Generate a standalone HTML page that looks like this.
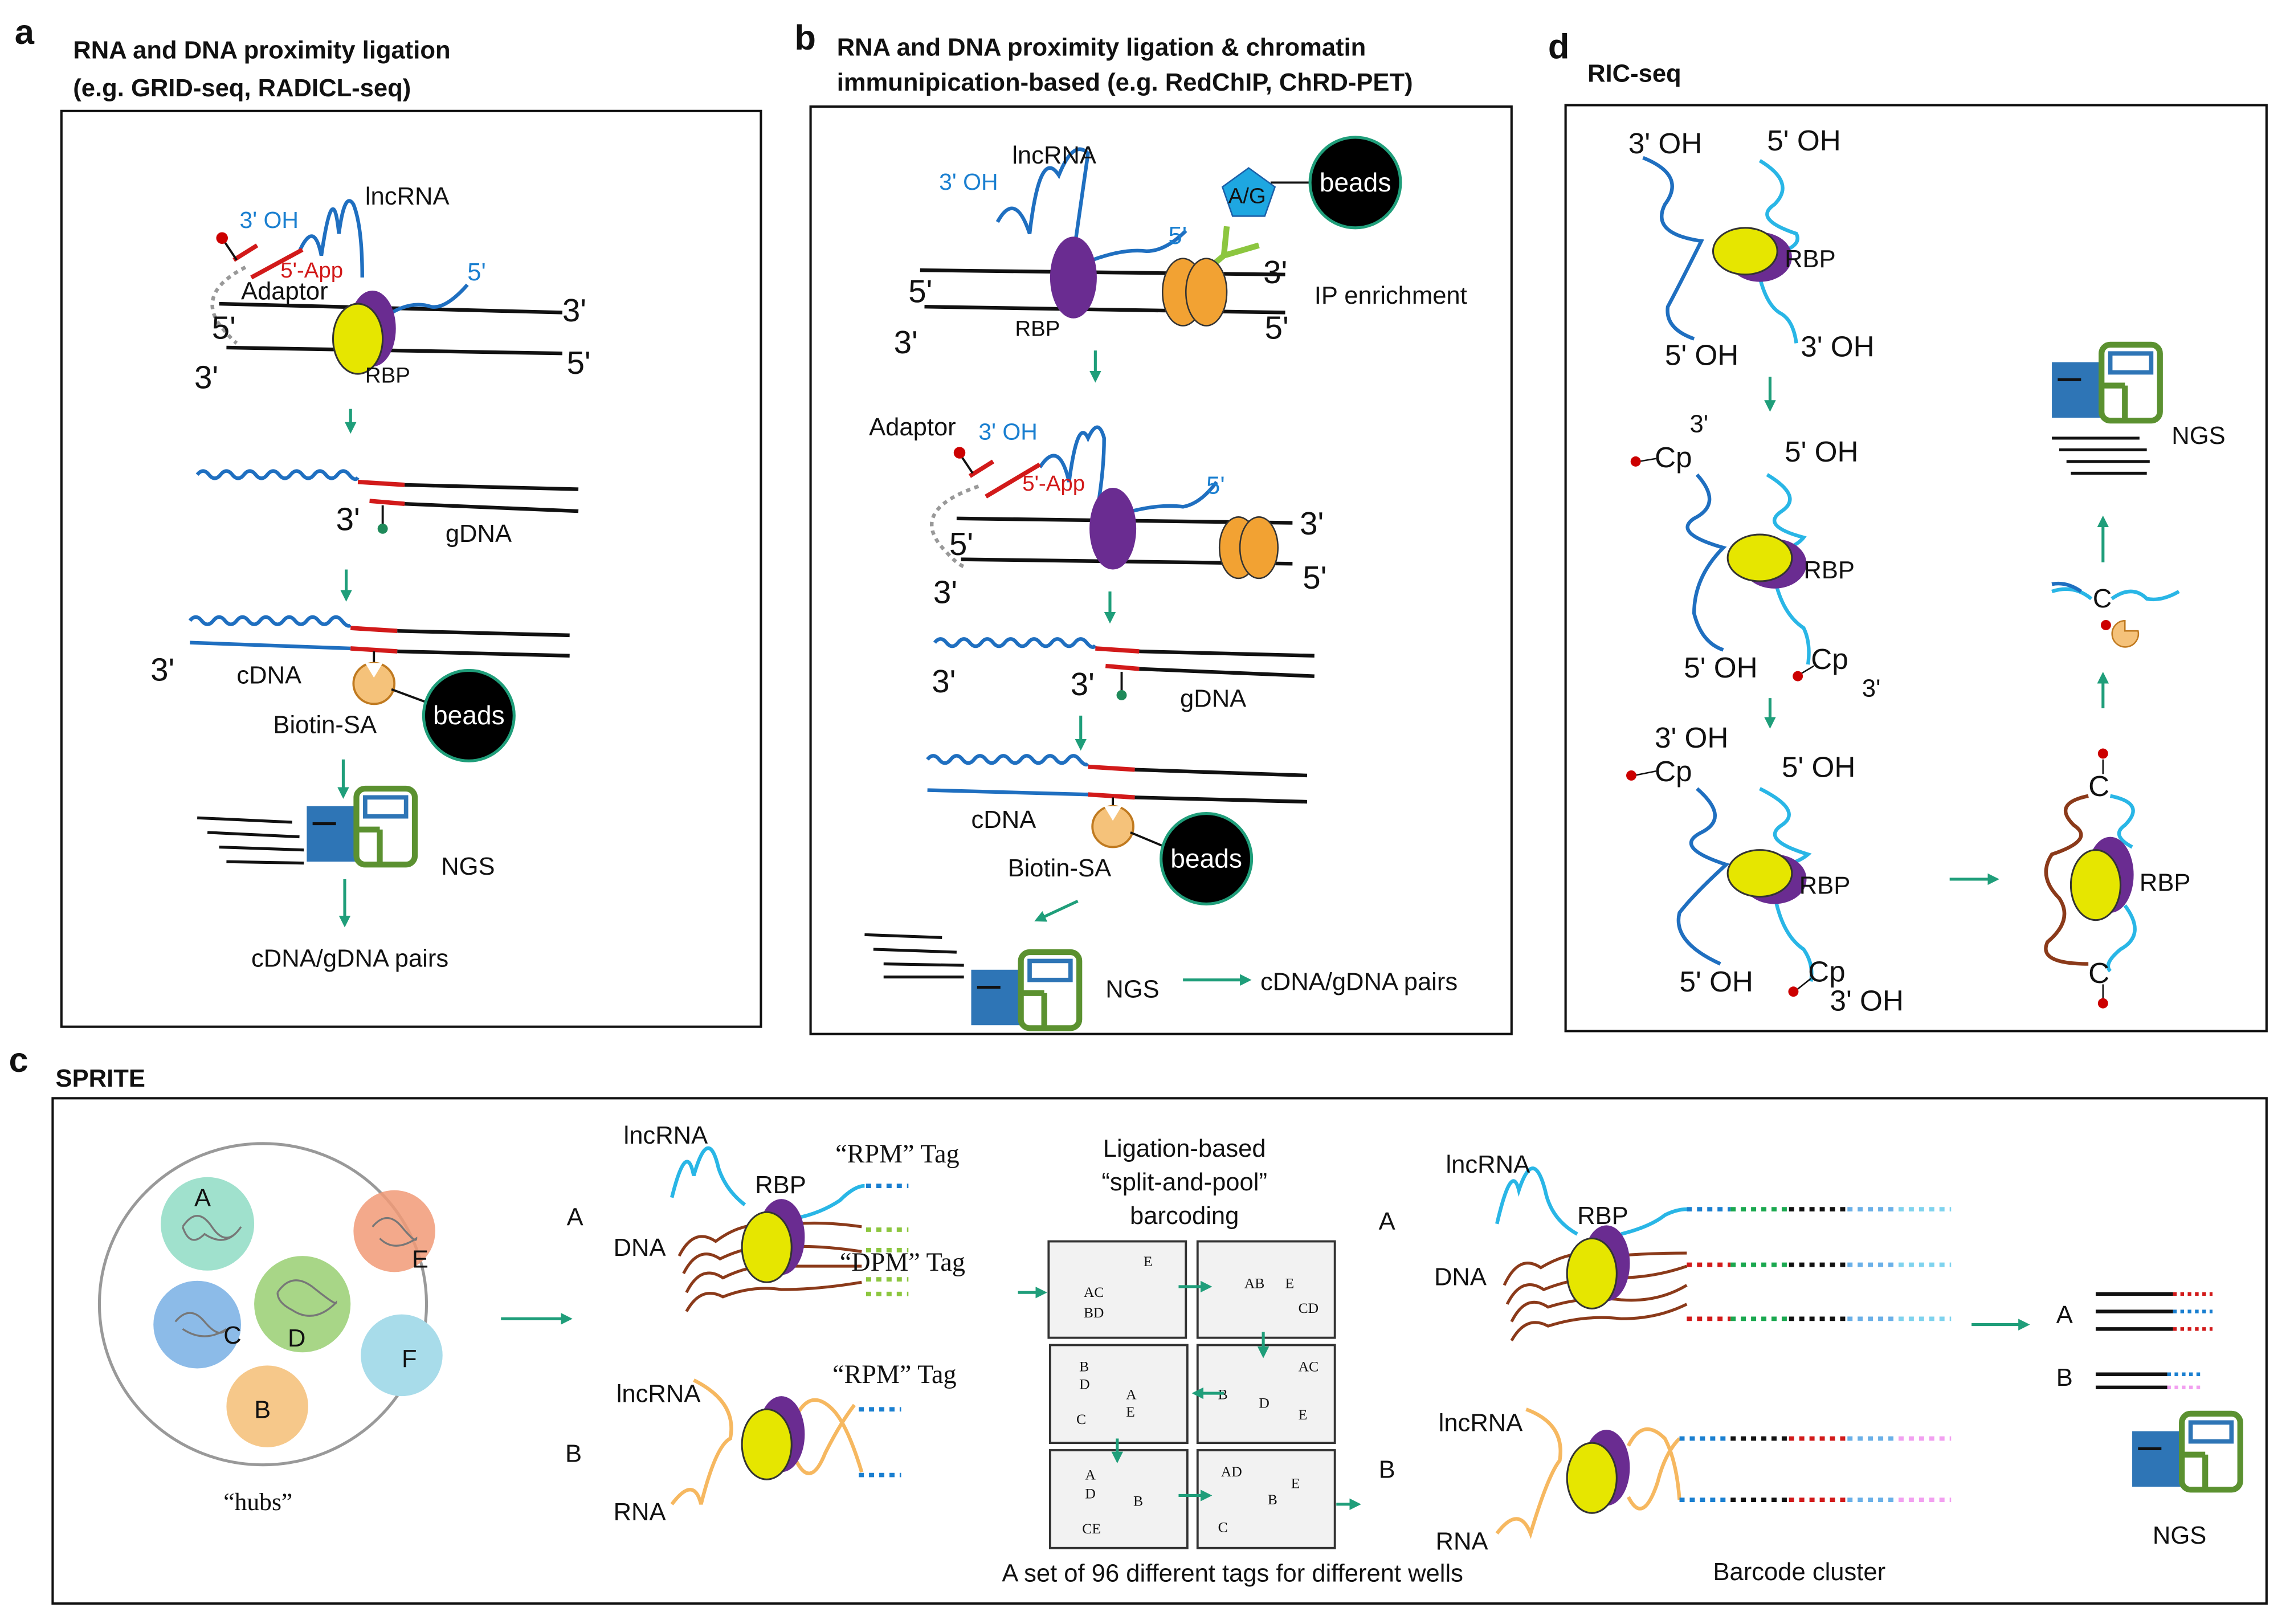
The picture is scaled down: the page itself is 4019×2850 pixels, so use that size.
<!DOCTYPE html>
<html><head><meta charset="utf-8">
<style>
html,body{margin:0;padding:0;background:#fff}
svg{display:block}
text{font-family:"Liberation Sans",Arial,sans-serif;font-size:17px;fill:#111}
.b{font-weight:bold}
.bl{fill:#1a7fd0}
.rd{fill:#d21a1a}
.ser{font-family:"Liberation Serif",serif}
</style></head><body>
<svg width="4019" height="2850" viewBox="0 0 1568 1112" xmlns="http://www.w3.org/2000/svg">
<defs>
<marker id="ar" markerWidth="8" markerHeight="8" refX="6" refY="4" orient="auto" markerUnits="userSpaceOnUse"><path d="M0,0 L8,4 L0,8 z" fill="#1f9e7a"/></marker>
<g id="ngs">
 <rect x="0" y="14" width="42" height="38" fill="#2e75b6"/>
 <line x1="4" y1="26" x2="20" y2="26" stroke="#111" stroke-width="2"/>
 <rect x="34" y="2" width="40" height="52" rx="6" fill="#fff" stroke="#5b9130" stroke-width="4"/>
 <rect x="40" y="8" width="28" height="13" fill="#fff" stroke="#2e75b6" stroke-width="3"/>
 <line x1="34" y1="30" x2="50" y2="30" stroke="#5b9130" stroke-width="4"/>
 <line x1="50" y1="30" x2="50" y2="54" stroke="#5b9130" stroke-width="4"/>
</g>
<g id="beads"><circle r="31" fill="#000" stroke="#1f9e7a" stroke-width="2"/><text x="0" y="6" text-anchor="middle" style="fill:#fff;font-size:18px">beads</text></g>
<g id="bio"><circle r="14" fill="#f5c27a" stroke="#c07a20" stroke-width="1.5"/><path d="M-6,-14 L0,-4 L6,-14z" fill="#fff"/></g>
<g id="pin"><line x1="0" y1="0" x2="0" y2="14" stroke="#111" stroke-width="1.5"/><circle cx="0" cy="16" r="3.5" fill="#1f8a5a"/></g>
<g id="rbp"><ellipse cx="10" cy="4" rx="22" ry="17" fill="#6a2c91"/><ellipse cx="0" cy="0" rx="22" ry="16" fill="#e6e600" stroke="#333" stroke-width="1.2"/></g>
<g id="rbp2"><ellipse cx="10" cy="-3" rx="16" ry="26" fill="#6a2c91"/><ellipse cx="0" cy="4" rx="17" ry="24" fill="#e6e600" stroke="#333" stroke-width="1.2"/></g>
</defs>

<g fill="none" stroke="#111" stroke-width="1.6">
<rect x="42" y="76" width="479" height="627"/>
<rect x="555" y="73" width="480" height="635"/>
<rect x="1072" y="72" width="480" height="634"/>
<rect x="36" y="752" width="1516" height="346"/>
</g>

<!-- titles -->
<text x="10" y="30" class="b" style="font-size:24px">a</text>
<text x="50" y="40" class="b">RNA and DNA proximity ligation</text>
<text x="50" y="66" class="b">(e.g. GRID-seq, RADICL-seq)</text>
<text x="544" y="34" class="b" style="font-size:24px">b</text>
<text x="573" y="38" class="b">RNA and DNA proximity ligation &amp; chromatin</text>
<text x="573" y="62" class="b">immunipication-based (e.g. RedChIP, ChRD-PET)</text>
<text x="1060" y="40" class="b" style="font-size:24px">d</text>
<text x="1087" y="56" class="b">RIC-seq</text>
<text x="6" y="734" class="b" style="font-size:24px">c</text>
<text x="38" y="744" class="b">SPRITE</text>

<!-- ============ Panel a ============ -->
<g fill="none" stroke-width="2.5">
<line x1="150" y1="208" x2="385" y2="214" stroke="#111"/>
<line x1="155" y1="238" x2="385" y2="242" stroke="#111"/>
<path d="M205,172 Q215,150 220,175 Q228,120 232,160 Q236,130 242,140 Q248,155 248,190" stroke="#1f6fc0"/>
<path d="M262,218 Q280,205 295,210 Q305,212 320,195" stroke="#1f6fc0"/>
<line x1="172" y1="190" x2="207" y2="171" stroke="#d21a1a" stroke-width="3"/>
<line x1="160" y1="178" x2="176" y2="168" stroke="#d21a1a" stroke-width="3"/>
<path d="M168,183 Q135,200 150,222 Q158,232 162,235" stroke="#999" stroke-dasharray="3 3"/>
</g>
<line x1="154" y1="166" x2="162" y2="178" stroke="#111" stroke-width="1.5"/>
<circle cx="152" cy="163" r="4" fill="#c00"/>
<use href="#rbp2" x="245" y="228"/>
<text x="164" y="156" class="bl" style="font-size:16px">3' OH</text>
<text x="250" y="140">lncRNA</text>
<text x="192" y="190" class="rd" style="font-size:15px">5'-App</text>
<text x="165" y="205">Adaptor</text>
<text x="320" y="192" class="bl">5'</text>
<text x="145" y="232" style="font-size:22px">5'</text>
<text x="385" y="220" style="font-size:22px">3'</text>
<text x="133" y="266" style="font-size:22px">3'</text>
<text x="388" y="256" style="font-size:22px">5'</text>
<text x="250" y="262" style="font-size:15px">RBP</text>
<line x1="240" y1="280" x2="240" y2="295" stroke="#1f9e7a" stroke-width="2" marker-end="url(#ar)"/>

<g fill="none" stroke-width="2.5">
<path d="M135,325 q4,-5 8,0 t8,0 t8,0 t8,0 t8,0 t8,0 t8,0 t8,0 t8,0 t8,0 t8,0 t8,0 t8,0 t6,2" stroke="#1f6fc0"/>
<line x1="245" y1="330" x2="277" y2="332" stroke="#d21a1a" stroke-width="3"/>
<line x1="277" y1="332" x2="396" y2="335" stroke="#111"/>
<line x1="277" y1="345" x2="396" y2="350" stroke="#111"/>
<line x1="253" y1="343" x2="277" y2="345" stroke="#d21a1a" stroke-width="3"/>
</g>
<use href="#pin" x="262" y="346"/>
<text x="230" y="363" style="font-size:22px">3'</text>
<text x="305" y="371">gDNA</text>
<line x1="237" y1="390" x2="237" y2="410" stroke="#1f9e7a" stroke-width="2" marker-end="url(#ar)"/>

<g fill="none" stroke-width="2.5">
<path d="M130,425 q4,-5 8,0 t8,0 t8,0 t8,0 t8,0 t8,0 t8,0 t8,0 t8,0 t8,0 t8,0 t8,0 t8,0 t6,3" stroke="#1f6fc0"/>
<line x1="240" y1="430" x2="272" y2="432" stroke="#d21a1a" stroke-width="3"/>
<line x1="272" y1="432" x2="390" y2="435" stroke="#111"/>
<line x1="130" y1="440" x2="240" y2="444" stroke="#1f6fc0"/>
<line x1="240" y1="444" x2="272" y2="446" stroke="#d21a1a" stroke-width="3"/>
<line x1="272" y1="446" x2="390" y2="449" stroke="#111"/>
</g>
<line x1="256" y1="446" x2="256" y2="460" stroke="#111" stroke-width="1.5"/>
<use href="#bio" x="256" y="468"/>
<line x1="268" y1="472" x2="295" y2="482" stroke="#111" stroke-width="1.5"/>
<use href="#beads" x="321" y="490"/>
<text x="103" y="466" style="font-size:22px">3'</text>
<text x="162" y="468">cDNA</text>
<text x="187" y="502">Biotin-SA</text>
<line x1="235" y1="520" x2="235" y2="545" stroke="#1f9e7a" stroke-width="2" marker-end="url(#ar)"/>
<g stroke="#111" stroke-width="2"><line x1="135" y1="560" x2="200" y2="563"/><line x1="142" y1="570" x2="205" y2="573"/><line x1="150" y1="580" x2="208" y2="582"/><line x1="155" y1="590" x2="208" y2="591"/></g>
<use href="#ngs" x="210" y="538"/>
<text x="302" y="599">NGS</text>
<line x1="236" y1="602" x2="236" y2="633" stroke="#1f9e7a" stroke-width="2" marker-end="url(#ar)"/>
<text x="172" y="662">cDNA/gDNA pairs</text>

<!-- ============ Panel b ============ -->
<g fill="none" stroke-width="2.5">
<line x1="630" y1="185" x2="880" y2="188" stroke="#111"/>
<line x1="633" y1="210" x2="880" y2="214" stroke="#111"/>
<path d="M683,152 Q695,130 705,160 Q712,100 725,120 Q735,95 745,105 Q740,140 735,175" stroke="#1f6fc0"/>
<path d="M748,178 Q770,170 785,172 Q798,172 812,158" stroke="#1f6fc0"/>
<path d="M820,190 L838,175 L840,155 M838,175 L862,168" stroke="#8cc63f" stroke-width="4"/>
<line x1="870" y1="125" x2="900" y2="125" stroke="#111" stroke-width="1.5"/>
</g>
<ellipse cx="735" cy="190" rx="16" ry="28" fill="#6a2c91"/>
<ellipse cx="810" cy="200" rx="14" ry="23" fill="#f2a233" stroke="#333"/>
<ellipse cx="826" cy="200" rx="14" ry="23" fill="#f2a233" stroke="#333"/>
<polygon points="855,115 873,128 866,148 844,148 837,128" fill="#1ea7e1" stroke="#1b5fa8"/>
<text x="841" y="139" style="font-size:15px">A/G</text>
<use href="#beads" x="928" y="125"/>
<text x="693" y="112">lncRNA</text>
<text x="643" y="130" class="bl" style="font-size:16px">3' OH</text>
<text x="800" y="167" class="bl">5'</text>
<text x="622" y="207" style="font-size:22px">5'</text>
<text x="612" y="242" style="font-size:22px">3'</text>
<text x="865" y="194" style="font-size:22px">3'</text>
<text x="866" y="232" style="font-size:22px">5'</text>
<text x="695" y="230" style="font-size:15px">RBP</text>
<text x="900" y="208">IP enrichment</text>
<line x1="750" y1="240" x2="750" y2="260" stroke="#1f9e7a" stroke-width="2" marker-end="url(#ar)"/>

<g fill="none" stroke-width="2.5">
<line x1="655" y1="355" x2="885" y2="358" stroke="#111"/>
<line x1="658" y1="383" x2="885" y2="386" stroke="#111"/>
<path d="M712,320 Q725,300 732,330 Q738,285 745,300 Q752,285 756,300 Q756,320 752,345" stroke="#1f6fc0"/>
<path d="M775,350 Q795,345 810,347 Q822,345 833,330" stroke="#1f6fc0"/>
<line x1="675" y1="340" x2="712" y2="318" stroke="#d21a1a" stroke-width="3"/>
<line x1="664" y1="326" x2="680" y2="316" stroke="#d21a1a" stroke-width="3"/>
<path d="M670,333 Q620,350 648,378 Q655,386 660,388" stroke="#999" stroke-dasharray="3 3"/>
</g>
<line x1="658" y1="312" x2="666" y2="324" stroke="#111" stroke-width="1.5"/>
<circle cx="657" cy="310" r="4" fill="#c00"/>
<ellipse cx="762" cy="362" rx="16" ry="28" fill="#6a2c91"/>
<ellipse cx="848" cy="375" rx="13" ry="21" fill="#f2a233" stroke="#333"/>
<ellipse cx="862" cy="375" rx="13" ry="21" fill="#f2a233" stroke="#333"/>
<text x="595" y="298">Adaptor</text>
<text x="670" y="301" class="bl" style="font-size:16px">3' OH</text>
<text x="700" y="336" class="rd" style="font-size:15px">5'-App</text>
<text x="826" y="338" class="bl">5'</text>
<text x="890" y="366" style="font-size:22px">3'</text>
<text x="892" y="403" style="font-size:22px">5'</text>
<text x="650" y="380" style="font-size:22px">5'</text>
<text x="639" y="413" style="font-size:22px">3'</text>
<line x1="760" y1="405" x2="760" y2="425" stroke="#1f9e7a" stroke-width="2" marker-end="url(#ar)"/>

<g fill="none" stroke-width="2.5">
<path d="M640,440 q4,-5 8,0 t8,0 t8,0 t8,0 t8,0 t8,0 t8,0 t8,0 t8,0 t8,0 t8,0 t8,0 t8,0 t6,2" stroke="#1f6fc0"/>
<line x1="750" y1="444" x2="780" y2="446" stroke="#d21a1a" stroke-width="3"/>
<line x1="780" y1="446" x2="900" y2="449" stroke="#111"/>
<line x1="780" y1="458" x2="900" y2="463" stroke="#111"/>
<line x1="757" y1="456" x2="780" y2="458" stroke="#d21a1a" stroke-width="3"/>
</g>
<use href="#pin" x="768" y="460"/>
<text x="638" y="474" style="font-size:22px">3'</text>
<text x="733" y="476" style="font-size:22px">3'</text>
<text x="808" y="484">gDNA</text>
<line x1="740" y1="490" x2="740" y2="512" stroke="#1f9e7a" stroke-width="2" marker-end="url(#ar)"/>

<g fill="none" stroke-width="2.5">
<path d="M635,520 q4,-5 8,0 t8,0 t8,0 t8,0 t8,0 t8,0 t8,0 t8,0 t8,0 t8,0 t8,0 t8,0 t8,0 t6,3" stroke="#1f6fc0"/>
<line x1="745" y1="525" x2="777" y2="527" stroke="#d21a1a" stroke-width="3"/>
<line x1="777" y1="527" x2="895" y2="531" stroke="#111"/>
<line x1="635" y1="541" x2="745" y2="544" stroke="#1f6fc0"/>
<line x1="745" y1="544" x2="777" y2="546" stroke="#d21a1a" stroke-width="3"/>
<line x1="777" y1="546" x2="895" y2="549" stroke="#111"/>
</g>
<line x1="762" y1="546" x2="762" y2="558" stroke="#111" stroke-width="1.5"/>
<use href="#bio" x="762" y="566"/>
<line x1="774" y1="570" x2="798" y2="580" stroke="#111" stroke-width="1.5"/>
<use href="#beads" x="826" y="588"/>
<text x="665" y="567">cDNA</text>
<text x="690" y="600">Biotin-SA</text>
<line x1="738" y1="617" x2="710" y2="630" stroke="#1f9e7a" stroke-width="2" marker-end="url(#ar)"/>
<g stroke="#111" stroke-width="2"><line x1="592" y1="640" x2="645" y2="642"/><line x1="598" y1="650" x2="655" y2="652"/><line x1="605" y1="660" x2="660" y2="661"/><line x1="605" y1="669" x2="660" y2="669"/></g>
<use href="#ngs" x="665" y="650"/>
<text x="757" y="683">NGS</text>
<line x1="810" y1="671" x2="855" y2="671" stroke="#1f9e7a" stroke-width="2" marker-end="url(#ar)"/>
<text x="863" y="678">cDNA/gDNA pairs</text>

<!-- ============ Panel d ============ -->
<g fill="none" stroke-width="2.5">
<path d="M1125,108 Q1155,120 1140,140 Q1130,160 1165,165 Q1150,195 1142,210 Q1140,225 1160,232" stroke="#1f6fc0"/>
<path d="M1205,110 Q1230,125 1215,140 Q1200,150 1230,160 Q1235,170 1210,175" stroke="#29b6e6"/>
<path d="M1205,190 Q1210,210 1220,215 Q1228,220 1230,235" stroke="#29b6e6"/>
</g>
<use href="#rbp" x="1195" y="172"/>
<text x="1115" y="105" style="font-size:20px">3' OH</text>
<text x="1210" y="103" style="font-size:20px">5' OH</text>
<text x="1222" y="183">RBP</text>
<text x="1140" y="250" style="font-size:20px">5' OH</text>
<text x="1233" y="244" style="font-size:20px">3' OH</text>
<line x1="1212" y1="258" x2="1212" y2="280" stroke="#1f9e7a" stroke-width="2" marker-end="url(#ar)"/>

<g fill="none" stroke-width="2.5">
<path d="M1162,325 Q1180,345 1160,355 Q1145,365 1180,375 Q1160,395 1160,420 Q1165,440 1180,445" stroke="#1f6fc0"/>
<path d="M1210,325 Q1235,340 1220,350 Q1205,360 1235,368 Q1230,375 1210,380" stroke="#29b6e6"/>
<path d="M1215,395 Q1220,420 1235,430 Q1240,440 1238,455" stroke="#29b6e6"/>
</g>
<use href="#rbp" x="1205" y="382"/>
<line x1="1122" y1="316" x2="1134" y2="314" stroke="#111"/><circle cx="1120" cy="316" r="3.5" fill="#c00"/>
<line x1="1232" y1="462" x2="1242" y2="456" stroke="#111"/><circle cx="1231" cy="463" r="3.5" fill="#c00"/>
<text x="1157" y="296" style="font-size:17px">3'</text>
<text x="1133" y="320" style="font-size:20px">Cp</text>
<text x="1222" y="316" style="font-size:20px">5' OH</text>
<text x="1235" y="396">RBP</text>
<text x="1153" y="464" style="font-size:20px">5' OH</text>
<text x="1240" y="458" style="font-size:20px">Cp</text>
<text x="1275" y="477" style="font-size:17px">3'</text>
<line x1="1212" y1="478" x2="1212" y2="497" stroke="#1f9e7a" stroke-width="2" marker-end="url(#ar)"/>

<g fill="none" stroke-width="2.5">
<path d="M1162,540 Q1185,560 1165,570 Q1145,580 1182,592 Q1160,612 1150,625 Q1145,645 1178,660" stroke="#1f6fc0"/>
<path d="M1205,540 Q1235,555 1220,565 Q1205,575 1238,585 Q1230,592 1210,595" stroke="#29b6e6"/>
<path d="M1215,612 Q1220,640 1235,650 Q1242,660 1240,672" stroke="#29b6e6"/>
</g>
<use href="#rbp" x="1205" y="598"/>
<line x1="1119" y1="531" x2="1134" y2="528" stroke="#111"/><circle cx="1117" cy="531" r="3.5" fill="#c00"/>
<line x1="1230" y1="678" x2="1240" y2="670" stroke="#111"/><circle cx="1228" cy="679" r="3.5" fill="#c00"/>
<text x="1133" y="512" style="font-size:20px">3' OH</text>
<text x="1133" y="535" style="font-size:20px">Cp</text>
<text x="1220" y="532" style="font-size:20px">5' OH</text>
<text x="1232" y="612">RBP</text>
<text x="1150" y="679" style="font-size:20px">5' OH</text>
<text x="1238" y="672" style="font-size:20px">Cp</text>
<text x="1253" y="692" style="font-size:20px">3' OH</text>
<line x1="1335" y1="602" x2="1367" y2="602" stroke="#1f9e7a" stroke-width="2" marker-end="url(#ar)"/>

<g fill="none" stroke-width="2.5">
<path d="M1430,545 Q1405,550 1420,565 Q1435,575 1405,585 Q1395,600 1410,615 Q1420,630 1402,645 Q1395,660 1430,660" stroke="#8b3a1a"/>
<path d="M1445,545 Q1470,550 1455,565 Q1445,572 1460,580 M1455,620 Q1470,640 1452,650 Q1440,660 1445,665" stroke="#29b6e6"/>
</g>
<use href="#rbp2" x="1435" y="602"/>
<line x1="1440" y1="520" x2="1440" y2="530" stroke="#111"/><circle cx="1440" cy="516" r="3.5" fill="#c00"/>
<line x1="1440" y1="674" x2="1440" y2="684" stroke="#111"/><circle cx="1440" cy="687" r="3.5" fill="#c00"/>
<text x="1430" y="545" style="font-size:20px">C</text>
<text x="1430" y="673" style="font-size:20px">C</text>
<text x="1465" y="610">RBP</text>
<line x1="1440" y1="485" x2="1440" y2="462" stroke="#1f9e7a" stroke-width="2" marker-end="url(#ar)"/>
<path d="M1405,405 Q1420,400 1432,410 M1446,410 Q1460,400 1470,410 Q1480,412 1492,405" fill="none" stroke="#29b6e6" stroke-width="2.5"/>
<path d="M1405,400 Q1415,398 1425,405" fill="none" stroke="#1f6fc0" stroke-width="2.5"/>
<text x="1433" y="416" style="font-size:18px">C</text>
<circle cx="1442" cy="428" r="3.5" fill="#c00"/>
<path d="M1455,425 A9,9 0 1,0 1464,432 L1455,432 Z" fill="#f5c27a" stroke="#c07a20"/>
<line x1="1440" y1="385" x2="1440" y2="355" stroke="#1f9e7a" stroke-width="2" marker-end="url(#ar)"/>
<use href="#ngs" x="1405" y="234"/>
<g stroke="#111" stroke-width="2"><line x1="1405" y1="300" x2="1465" y2="300"/><line x1="1410" y1="308" x2="1470" y2="308"/><line x1="1415" y1="316" x2="1472" y2="316"/><line x1="1418" y1="324" x2="1470" y2="324"/></g>
<text x="1487" y="304">NGS</text>

<!-- ============ Panel c ============ -->
<ellipse cx="180" cy="893" rx="112" ry="110" fill="#fff" stroke="#999" stroke-width="2"/>
<circle cx="142" cy="838" r="32" fill="#8fdcc4" opacity="0.85"/>
<circle cx="270" cy="843" r="28" fill="#f19a77" opacity="0.85"/>
<circle cx="135" cy="907" r="30" fill="#7fb4e6" opacity="0.9"/>
<circle cx="207" cy="893" r="33" fill="#9fd27a" opacity="0.9"/>
<circle cx="275" cy="928" r="28" fill="#a8dcea"/>
<circle cx="183" cy="963" r="28" fill="#f6c88a"/>
<g fill="none" stroke="#777" stroke-width="1.3">
<path d="M125,840 q10,-15 20,0 t20,0 q-10,15 -25,5 q-10,10 -15,-5"/>
<path d="M255,840 q10,-12 20,0 t10,8 q-15,10 -25,0"/>
<path d="M120,905 q10,-12 20,0 t15,5 q-15,10 -30,0"/>
<path d="M190,885 q10,-15 25,-3 t15,10 q-15,15 -30,5 q-10,-5 -10,-12"/>
</g>
<text x="133" y="826">A</text><text x="282" y="868">E</text><text x="153" y="920">C</text>
<text x="197" y="922">D</text><text x="275" y="936">F</text><text x="174" y="971">B</text>
<text x="153" y="1034" class="ser">“hubs”</text>
<line x1="343" y1="903" x2="390" y2="903" stroke="#1f9e7a" stroke-width="2" marker-end="url(#ar)"/>

<text x="388" y="839">A</text><text x="387" y="1001">B</text>
<g fill="none" stroke-width="2.5">
<path d="M460,820 Q470,780 475,805 Q485,770 492,800 Q497,815 510,825" stroke="#29b6e6"/>
<path d="M540,835 Q560,832 575,822 Q585,812 592,812" stroke="#29b6e6"/>
<path d="M465,860 q10,-20 25,-10 q20,-15 40,-10 q25,-5 60,0 M468,872 q10,-20 25,-10 q20,-10 40,-8 q25,-2 57,3 M470,885 q10,-20 25,-10 q20,-10 40,-8 q25,0 55,0 M470,898 q10,-18 25,-10 q20,-8 40,-5 q25,0 55,-5" stroke="#8b3a1a" stroke-width="2"/>
<path d="M460,1030 Q475,1010 480,1030 Q490,990 500,985 Q505,960 475,945" stroke="#f6b860"/>
<path d="M545,1000 Q555,1020 565,995 Q575,975 585,962 M545,970 Q555,950 570,965 Q580,975 590,1008" stroke="#f6b860"/>
</g>
<use href="#rbp2" x="525" y="850"/>
<use href="#rbp2" x="525" y="985"/>
<g stroke-width="3" stroke-dasharray="3.5 3.5" fill="none">
<line x1="593" y1="812" x2="622" y2="812" stroke="#1a7fd0"/>
<line x1="593" y1="842" x2="622" y2="842" stroke="#8cc63f"/>
<line x1="593" y1="856" x2="622" y2="856" stroke="#8cc63f"/>
<line x1="593" y1="876" x2="622" y2="876" stroke="#8cc63f"/>
<line x1="593" y1="886" x2="622" y2="886" stroke="#8cc63f"/>
<line x1="588" y1="965" x2="617" y2="965" stroke="#1a7fd0"/>
<line x1="588" y1="1010" x2="617" y2="1010" stroke="#1a7fd0"/>
</g>
<text x="427" y="783">lncRNA</text>
<text x="517" y="817">RBP</text>
<text x="420" y="860">DNA</text>
<text x="572" y="796" class="ser" style="font-size:18px">“RPM” Tag</text>
<text x="575" y="870" class="ser" style="font-size:18px">“DPM” Tag</text>
<text x="422" y="960">lncRNA</text>
<text x="570" y="947" class="ser" style="font-size:18px">“RPM” Tag</text>
<text x="420" y="1041">RNA</text>

<text x="811" y="792" text-anchor="middle">Ligation-based</text>
<text x="811" y="815" text-anchor="middle">“split-and-pool”</text>
<text x="811" y="838" text-anchor="middle">barcoding</text>
<g fill="#f2f2f2" stroke="#333" stroke-width="1.5">
<rect x="718" y="850" width="94" height="66"/><rect x="820" y="850" width="94" height="66"/>
<rect x="719" y="921" width="94" height="67"/><rect x="820" y="921" width="94" height="67"/>
<rect x="719" y="993" width="94" height="67"/><rect x="820" y="993" width="94" height="67"/>
</g>
<g class="ser" style="font-size:10px">
<text x="783" y="867" class="ser" style="font-size:10px">E</text>
<text x="742" y="888" class="ser" style="font-size:10px">AC</text><text x="742" y="902" class="ser" style="font-size:10px">BD</text>
<text x="852" y="882" class="ser" style="font-size:10px">AB</text><text x="880" y="882" class="ser" style="font-size:10px">E</text><text x="889" y="899" class="ser" style="font-size:10px">CD</text>
<text x="739" y="939" class="ser" style="font-size:10px">B</text><text x="739" y="951" class="ser" style="font-size:10px">D</text><text x="771" y="958" class="ser" style="font-size:10px">A</text><text x="771" y="970" class="ser" style="font-size:10px">E</text><text x="737" y="975" class="ser" style="font-size:10px">C</text>
<text x="889" y="939" class="ser" style="font-size:10px">AC</text><text x="834" y="958" class="ser" style="font-size:10px">B</text><text x="862" y="964" class="ser" style="font-size:10px">D</text><text x="889" y="972" class="ser" style="font-size:10px">E</text>
<text x="743" y="1013" class="ser" style="font-size:10px">A</text><text x="743" y="1026" class="ser" style="font-size:10px">D</text><text x="776" y="1031" class="ser" style="font-size:10px">B</text><text x="741" y="1050" class="ser" style="font-size:10px">CE</text>
<text x="836" y="1011" class="ser" style="font-size:10px">AD</text><text x="884" y="1019" class="ser" style="font-size:10px">E</text><text x="868" y="1030" class="ser" style="font-size:10px">B</text><text x="834" y="1049" class="ser" style="font-size:10px">C</text>
</g>
<g stroke="#1f9e7a" stroke-width="2">
<line x1="697" y1="885" x2="715" y2="885" marker-end="url(#ar)"/>
<line x1="807" y1="881" x2="828" y2="881" marker-end="url(#ar)"/>
<line x1="865" y1="912" x2="865" y2="928" marker-end="url(#ar)"/>
<line x1="838" y1="954" x2="818" y2="954" marker-end="url(#ar)"/>
<line x1="765" y1="985" x2="765" y2="1000" marker-end="url(#ar)"/>
<line x1="807" y1="1024" x2="828" y2="1024" marker-end="url(#ar)"/>
<line x1="915" y1="1030" x2="930" y2="1030" marker-end="url(#ar)"/>
</g>
<text x="686" y="1083">A set of 96 different tags for different wells</text>

<text x="944" y="842">A</text><text x="944" y="1012">B</text>
<g fill="none" stroke-width="2.5">
<path d="M1025,838 Q1035,795 1040,815 Q1050,785 1058,815 Q1062,835 1080,845" stroke="#29b6e6"/>
<path d="M1110,845 Q1130,840 1140,832 Q1148,828 1155,828" stroke="#29b6e6"/>
<path d="M1030,880 q10,-22 25,-12 q25,-15 50,-8 q25,-2 50,-2 M1032,893 q10,-20 25,-10 q25,-10 50,-8 q25,0 48,-8 M1035,905 q10,-20 25,-10 q25,-8 50,-5 q25,2 45,-10 M1035,918 q10,-18 25,-10 q25,-8 50,-5 q25,0 45,-10" stroke="#8b3a1a" stroke-width="2"/>
<path d="M1025,1050 Q1040,1030 1048,1050 Q1060,1010 1068,1000 Q1072,975 1045,965" stroke="#f6b860"/>
<path d="M1115,1025 Q1125,1045 1135,1015 Q1140,995 1150,985 M1115,990 Q1125,970 1140,985 Q1148,1000 1150,1027" stroke="#f6b860"/>
</g>
<use href="#rbp2" x="1090" y="868"/>
<use href="#rbp2" x="1090" y="1008"/>
<g stroke-width="3" stroke-dasharray="3.5 3.5" fill="none">
<line x1="1155" y1="828" x2="1185" y2="828" stroke="#1a7fd0"/><line x1="1185" y1="828" x2="1225" y2="828" stroke="#1aa84f"/><line x1="1225" y1="828" x2="1265" y2="828" stroke="#111"/><line x1="1265" y1="828" x2="1300" y2="828" stroke="#6ab0e8"/><line x1="1300" y1="828" x2="1336" y2="828" stroke="#7fd3ee"/>
<line x1="1155" y1="866" x2="1185" y2="866" stroke="#d21a1a"/><line x1="1185" y1="866" x2="1225" y2="866" stroke="#1aa84f"/><line x1="1225" y1="866" x2="1265" y2="866" stroke="#111"/><line x1="1265" y1="866" x2="1300" y2="866" stroke="#6ab0e8"/><line x1="1300" y1="866" x2="1336" y2="866" stroke="#7fd3ee"/>
<line x1="1155" y1="903" x2="1185" y2="903" stroke="#d21a1a"/><line x1="1185" y1="903" x2="1225" y2="903" stroke="#1aa84f"/><line x1="1225" y1="903" x2="1265" y2="903" stroke="#111"/><line x1="1265" y1="903" x2="1300" y2="903" stroke="#6ab0e8"/><line x1="1300" y1="903" x2="1336" y2="903" stroke="#7fd3ee"/>
<line x1="1150" y1="985" x2="1185" y2="985" stroke="#1a7fd0"/><line x1="1185" y1="985" x2="1225" y2="985" stroke="#111"/><line x1="1225" y1="985" x2="1265" y2="985" stroke="#d21a1a"/><line x1="1265" y1="985" x2="1300" y2="985" stroke="#6ab0e8"/><line x1="1300" y1="985" x2="1336" y2="985" stroke="#f2a0f0"/>
<line x1="1150" y1="1027" x2="1185" y2="1027" stroke="#1a7fd0"/><line x1="1185" y1="1027" x2="1225" y2="1027" stroke="#111"/><line x1="1225" y1="1027" x2="1265" y2="1027" stroke="#d21a1a"/><line x1="1265" y1="1027" x2="1300" y2="1027" stroke="#6ab0e8"/><line x1="1300" y1="1027" x2="1336" y2="1027" stroke="#f2a0f0"/>
</g>
<text x="990" y="803">lncRNA</text>
<text x="1080" y="838">RBP</text>
<text x="982" y="880">DNA</text>
<text x="985" y="980">lncRNA</text>
<text x="983" y="1061">RNA</text>
<text x="1173" y="1082">Barcode cluster</text>
<line x1="1350" y1="907" x2="1388" y2="907" stroke="#1f9e7a" stroke-width="2" marker-end="url(#ar)"/>

<text x="1408" y="906">A</text><text x="1408" y="949">B</text>
<g stroke="#111" stroke-width="2.5">
<line x1="1435" y1="886" x2="1488" y2="886"/><line x1="1435" y1="898" x2="1488" y2="898"/><line x1="1435" y1="910" x2="1488" y2="910"/>
<line x1="1435" y1="941" x2="1484" y2="941"/><line x1="1435" y1="950" x2="1484" y2="950"/>
</g>
<g stroke-width="2.5" stroke-dasharray="2.5 2.5" fill="none">
<line x1="1488" y1="886" x2="1515" y2="886" stroke="#d21a1a"/><line x1="1488" y1="898" x2="1515" y2="898" stroke="#1a7fd0"/><line x1="1488" y1="910" x2="1515" y2="910" stroke="#d21a1a"/>
<line x1="1484" y1="941" x2="1508" y2="941" stroke="#1a7fd0"/><line x1="1484" y1="950" x2="1508" y2="950" stroke="#f2a0f0"/>
</g>
<use href="#ngs" x="1460" y="966"/>
<text x="1474" y="1057">NGS</text>
</svg>
</body></html>
